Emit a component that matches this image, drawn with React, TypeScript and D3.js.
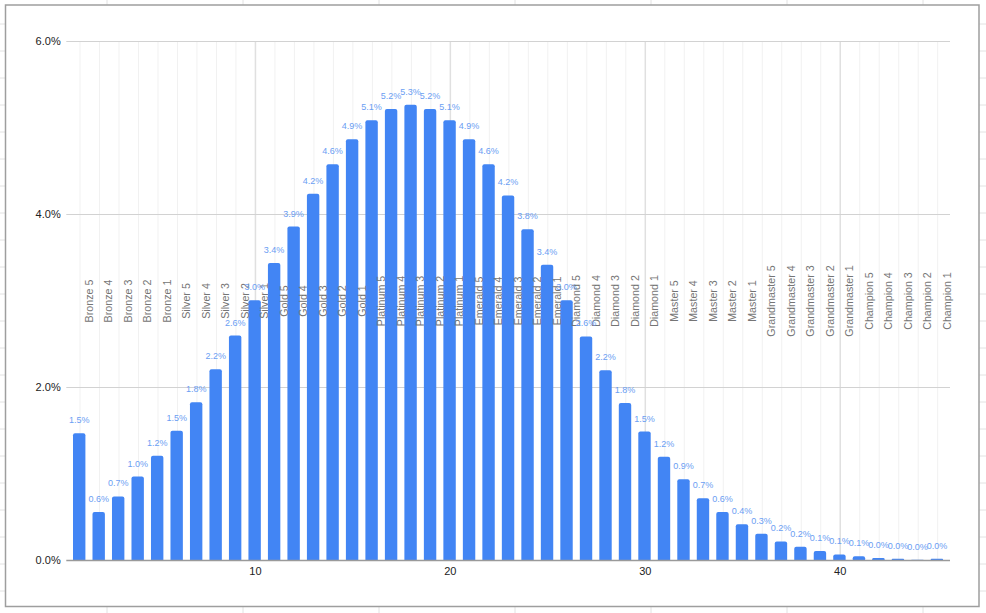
import React from "react";
import * as d3 from "d3";

const tiers = ["Bronze", "Silver", "Gold", "Platinum", "Emerald", "Diamond", "Master", "Grandmaster", "Champion"];
const divisions = [5, 4, 3, 2, 1];
const categories: string[] = tiers.flatMap((t) => divisions.map((d) => `${t} ${d}`));

const values: number[] = [
  1.47, 0.56, 0.74, 0.97, 1.21, 1.5, 1.83, 2.21, 2.6, 3.01,
  3.44, 3.86, 4.24, 4.58, 4.87, 5.09, 5.22, 5.27, 5.22, 5.09,
  4.87, 4.58, 4.22, 3.83, 3.42, 3.01, 2.59, 2.2, 1.82, 1.49,
  1.2, 0.94, 0.72, 0.56, 0.42, 0.31, 0.22, 0.16, 0.11, 0.07,
  0.05, 0.03, 0.02, 0.01, 0.02,
];

const yTicks = [0, 2, 4, 6];
const xTicks = [10, 20, 30, 40];

const W = 986;
const H = 613;

export default function App() {
  const x = d3.scaleLinear().domain([1, 45]).range([80, 937.7]);
  const y = d3.scaleLinear().domain([0, 6]).range([560.5, 41.5]);
  const plotLeft = 66.3;
  const plotRight = 950;
  const barW = 12.4;
  const r = 2;

  const sheetRows = d3.range(24, H, 27);
  const sheetCols = d3.range(107, W, 136);

  const barPath = (i: number, v: number) => {
    const x0 = x(i + 1) - 0.8 - barW / 2;
    const x1 = x0 + barW;
    const y0 = y(0);
    const yt = y(v);
    const rr = Math.min(r, (y0 - yt) / 2);
    return `M${x0},${y0}L${x0},${yt + rr}Q${x0},${yt} ${x0 + rr},${yt}L${x1 - rr},${yt}Q${x1},${yt} ${x1},${yt + rr}L${x1},${y0}Z`;
  };

  const fmt = (v: number) => (Math.round(v * 10) / 10).toFixed(1) + "%";
  const midY = (y(0) + y(6)) / 2;

  return (
    <div style={{ position: "absolute", left: 0, top: 0 }}>
      <svg width={W} height={H} style={{ display: "block", fontFamily: "Arial, 'Liberation Sans', sans-serif" }}>
        <rect x={0} y={0} width={W} height={H} fill="#fff" />
        {sheetRows.map((yy) => (
          <line key={"sr" + yy} x1={0} x2={W} y1={yy} y2={yy} stroke="#e2e2e2" strokeWidth={1} />
        ))}
        {sheetCols.map((xx) => (
          <line key={"sc" + xx} x1={xx} x2={xx} y1={0} y2={H} stroke="#e2e2e2" strokeWidth={1} />
        ))}
        <rect x={5.5} y={5} width={973.5} height={601.5} fill="#fff" stroke="#9e9e9e" strokeWidth={1.5} />

        {d3.range(1, 46).map((i) => (
          <line
            key={"vg" + i}
            x1={x(i)}
            x2={x(i)}
            y1={y(6)}
            y2={y(0)}
            stroke={xTicks.includes(i) ? "#e0e0e0" : "#f1f1f1"}
            strokeWidth={xTicks.includes(i) ? 1.5 : 1}
          />
        ))}
        {yTicks.filter((t) => t !== 0).map((t) => (
          <line key={"hg" + t} x1={plotLeft} x2={plotRight} y1={y(t)} y2={y(t)} stroke="#d2d2d2" strokeWidth={1} />
        ))}

        {values.map((v, i) => (
          <path key={"b" + i} d={barPath(i, v)} fill="#4285f4" />
        ))}

        <line x1={plotLeft} x2={plotRight} y1={y(0)} y2={y(0)} stroke="#9a9a9a" strokeWidth={1.5} />

        {categories.map((c, i) => (
          <text
            key={"c" + i}
            transform={`translate(${x(i + 1) + 9},${midY}) rotate(-90)`}
            textAnchor="middle"
            dominantBaseline="central"
            fontSize={10.7}
            fill="#757575"
          >
            {c}
          </text>
        ))}

        {values.map((v, i) => (
          <text
            key={"v" + i}
            x={x(i + 1) - 0.8}
            y={y(v) - 10}
            textAnchor="middle"
            fontSize={9}
            fill="#6b9ef3"
          >
            {fmt(v)}
          </text>
        ))}

        {yTicks.map((t) => (
          <text key={"yl" + t} x={60.7} y={y(t)} dy="0.35em" textAnchor="end" fontSize={11} fill="#222">
            {t.toFixed(1) + "%"}
          </text>
        ))}
        {xTicks.map((t) => (
          <text key={"xl" + t} x={x(t)} y={575} textAnchor="middle" fontSize={11} fill="#222">
            {t}
          </text>
        ))}
      </svg>
    </div>
  );
}
